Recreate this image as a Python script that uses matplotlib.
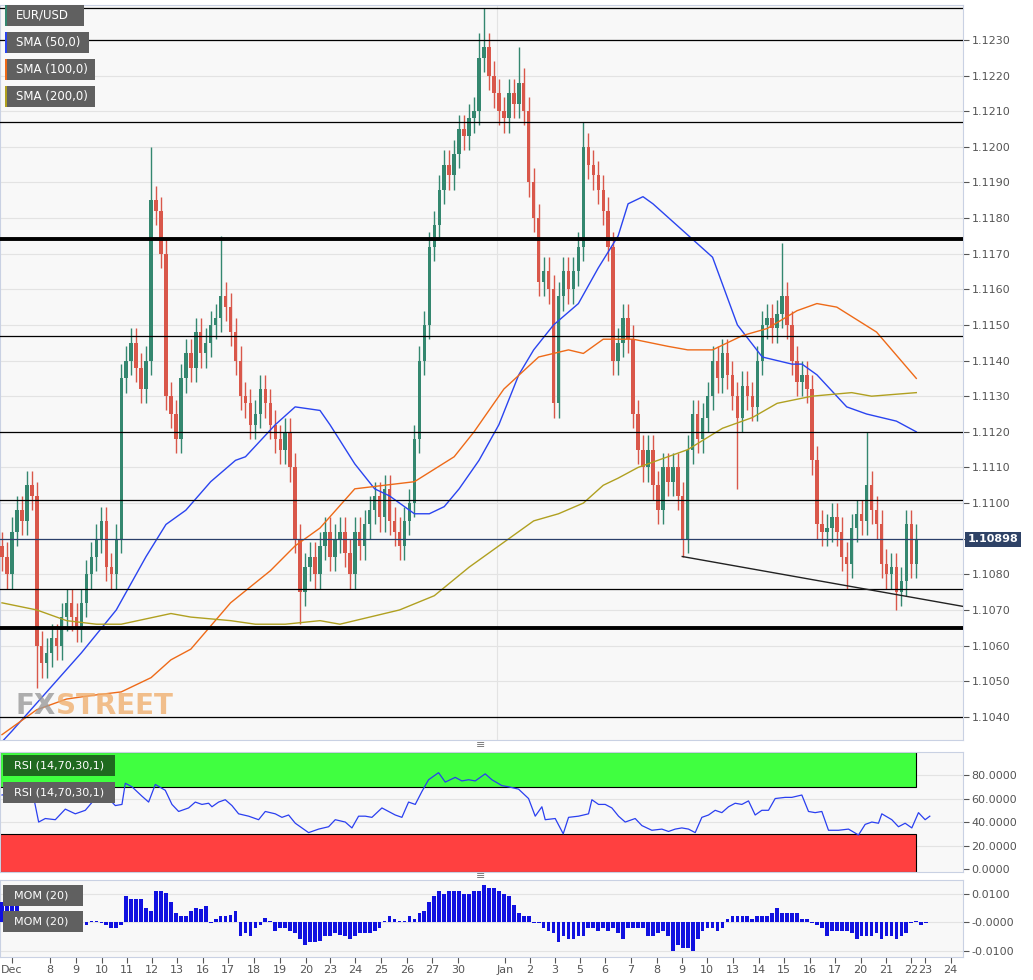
import matplotlib
matplotlib.use("Agg")
import matplotlib.pyplot as plt
from matplotlib.patches import Rectangle
import numpy as np

# ---------------- data ----------------
closes = [1.1085,1.1080,1.1092,1.1098,1.1095,1.1105,1.1102,1.1060,1.1055,1.1058,1.1062,1.1060,1.1068,1.1072,1.1068,1.1065,
1.1072,1.1080,1.1085,1.1090,1.1095,1.1082,1.1080,1.1090,1.1135,1.1140,1.1145,1.1138,1.1132,1.1140,1.1185,1.1182,1.1170,
1.1130,1.1125,1.1118,1.1135,1.1142,1.1138,1.1148,1.1142,1.1145,1.1150,1.1152,1.1158,1.1155,1.1148,1.1140,1.1130,1.1128,
1.1122,1.1125,1.1132,1.1128,1.1122,1.1118,1.1115,1.1120,1.1110,1.1090,1.1075,1.1082,1.1085,1.1080,1.1088,1.1092,1.1085,
1.1090,1.1092,1.1086,1.1080,1.1092,1.1088,1.1094,1.1098,1.1102,1.1096,1.1104,1.1095,1.1092,1.1088,1.1095,1.1100,1.1118,
1.1140,1.1150,1.1172,1.1178,1.1188,1.1195,1.1192,1.1198,1.1205,1.1203,1.1208,1.1210,1.1225,1.1228,1.1220,1.1215,1.1210,
1.1208,1.1215,1.1212,1.1218,1.1210,1.1190,1.1180,1.1162,1.1165,1.1160,1.1128,1.1158,1.1165,1.1160,1.1165,1.1172,1.1200,
1.1195,1.1192,1.1188,1.1182,1.1172,1.1140,1.1145,1.1152,1.1146,1.1125,1.1115,1.1110,1.1115,1.1105,1.1098,1.1110,1.1106,
1.1110,1.1102,1.1090,1.1115,1.1125,1.1118,1.1124,1.1130,1.1140,1.1135,1.1142,1.1136,1.1130,1.1124,1.1133,1.1130,1.1127,
1.1140,1.1150,1.1152,1.1149,1.1153,1.1158,1.1150,1.1140,1.1134,1.1136,1.1132,1.1112,1.1094,1.1092,1.1093,1.1096,1.1092,
1.1085,1.1083,1.1093,1.1097,1.1095,1.1105,1.1098,1.1094,1.1083,1.1080,1.1082,1.1075,1.1078,1.1094,1.1083,1.1090]
first_open = 1.1088
spike_high = {30: 1.1200, 44: 1.1175, 97: 1.1239, 117: 1.1207, 157: 1.1173, 174: 1.1120, 96: 1.1232, 104: 1.1228}
spike_low = {7: 1.1048, 60: 1.1066, 111: 1.1125, 137: 1.1085, 148: 1.1104, 170: 1.1076, 180: 1.1070}

sma50_idx = [0,2,16,23,29,33,37,42,47,49,55,59,64,66,71,75,78,83,86,89,92,96,100,104,107,111,116,120,124,126,129,131,
             143,148,153,159,161,164,170,174,180,184]
sma50_px = [1.1033,1.1036,1.1058,1.1070,1.1085,1.1094,1.1098,1.1106,1.1112,1.1113,1.1122,1.1127,1.1126,1.1122,1.1111,
            1.1104,1.1102,1.1097,1.1097,1.1099,1.1104,1.1112,1.1122,1.1136,1.1143,1.1150,1.1156,1.1166,1.1175,1.1184,1.1186,
            1.1184,1.1169,1.1150,1.1141,1.1139,1.1139,1.1136,1.1127,1.1125,1.1123,1.1120]
sma100_idx = [0,7,13,18,24,30,34,38,46,54,59,64,71,83,91,95,101,108,114,117,121,127,134,138,143,149,154,160,164,168,176,184]
sma100_px = [1.1035,1.1042,1.1045,1.1046,1.1047,1.1051,1.1056,1.1059,1.1072,1.1081,1.1088,1.1093,1.1104,1.1106,1.1113,
             1.1120,1.1132,1.1141,1.1143,1.1142,1.1146,1.1146,1.1144,1.1143,1.1143,1.1147,1.1149,1.1154,1.1156,1.1155,1.1148,1.1135]
sma200_idx = [0,7,13,19,24,34,38,46,51,57,64,68,80,87,94,100,107,112,117,121,124,128,138,145,151,156,163,171,175,184]
sma200_px = [1.1072,1.1070,1.1067,1.1066,1.1066,1.1069,1.1068,1.1067,1.1066,1.1066,1.1067,1.1066,1.1070,1.1074,1.1082,
             1.1088,1.1095,1.1097,1.1100,1.1105,1.1107,1.1110,1.1115,1.1121,1.1124,1.1128,1.1130,1.1131,1.1130,1.1131]

rsi_zx = [0,20,35,45,55,65,80,95,110,125,140,150,160,170,180,185,195,210,220,230,245,255,265,280,290,300,310,315,325,335,
          345,355,370,385,395,410,420,430,440,450,460,475,490,500,515,525,535,545,555,570,580,590,600,610,620,630,640,655,
          665,680,690,700,710,725,735,750,760,775,790,800,810,815,830,842,850,865,880,885,895,905,915,925,935,950,960,975,
          990,1000,1010,1020,1030,1040,1050,1060,1070,1080,1090,1100,1110,1120,1130,1140,1150,1160,1175,1185,1200,1210,
          1220,1230,1240,1255,1270,1285,1295,1305,1315,1320,1335,1345,1355,1365,1375,1385,1392]
rsi_val = [63,65,70,68,40,43,42,51,47,50,60,62,60,54,55,73,70,62,57,72,67,55,49,52,57,55,56,53,57,59,54,47,45,42,49,47,
           44,46,39,35,31,34,36,42,40,35,45,45,44,52,49,46,44,57,55,66,76,82,74,78,75,76,75,81,76,71,70,68,60,45,53,42,43,
           30,44,45,47,59,55,55,52,45,40,43,37,33,34,32,34,35,34,31,44,46,50,48,53,56,55,58,46,50,50,60,61,61,63,49,48,49,
           33,33,34,29,38,40,39,47,42,36,39,35,48,42,45]

mom = [0.007,0.012,0.006,0.007,0.003,0.003,-0.002,-0.001,-0.002,-0.003,-0.002,-0.002,-0.001,-0.002,-0.001,-0.001,-0.001,
       -0.001,0.0003,0.0003,-0.0005,-0.001,-0.002,-0.002,-0.001,0.009,0.008,0.008,0.008,0.005,0.004,0.011,0.011,0.0103,
       0.007,0.003,0.002,0.002,0.004,0.005,0.0045,0.0055,-0.0005,0.001,0.002,0.002,0.0025,0.004,-0.005,-0.004,-0.005,
       -0.002,-0.001,0.0015,0.0003,-0.003,-0.002,-0.002,-0.003,-0.004,-0.006,-0.008,-0.007,-0.007,-0.0065,-0.005,-0.005,
       -0.004,-0.0045,-0.005,-0.006,-0.005,-0.004,-0.004,-0.004,-0.003,-0.002,0.0005,0.002,0.001,0.0005,0.0005,0.002,
       0.001,0.003,0.004,0.007,0.009,0.011,0.010,0.011,0.011,0.011,0.010,0.010,0.011,0.011,0.013,0.012,0.012,0.011,0.010,
       0.009,0.006,0.003,0.002,0.002,-0.0005,-0.0005,-0.002,-0.003,-0.004,-0.007,-0.005,-0.006,-0.006,-0.005,-0.005,
       -0.002,-0.002,-0.003,-0.002,-0.003,-0.002,-0.004,-0.006,-0.002,-0.002,-0.002,-0.002,-0.005,-0.005,-0.004,-0.003,
       -0.005,-0.010,-0.008,-0.009,-0.009,-0.010,-0.006,-0.003,-0.002,-0.002,-0.003,-0.002,0.001,0.002,0.002,0.002,0.002,
       0.001,0.002,0.002,0.002,0.003,0.005,0.003,0.003,0.003,0.003,0.001,0.001,-0.0005,-0.001,-0.002,-0.005,-0.003,
       -0.003,-0.003,-0.003,-0.004,-0.006,-0.005,-0.005,-0.005,-0.004,-0.006,-0.005,-0.005,-0.006,-0.005,-0.004,-0.0005,
       0.0003,-0.001,-0.0003]

h_lines_thin = [1.1239, 1.1230, 1.1207, 1.1147, 1.1120, 1.1101, 1.1076, 1.1040]
h_lines_thick = [1.1174, 1.1065]
trend_idx = [137.3, 193.8]
trend_px = [1.1085, 1.1071]
last_price = 1.10898

tick_pos = [2.4,10,15.3,20.5,25.5,30.6,35.6,40.8,45.9,51.1,56.3,61.6,66.4,71.4,76.7,81.9,86.9,92.2,101.6,106.6,111.7,
            116.7,121.7,127,132.2,137.2,142.3,147.5,152.7,157.7,163,168,173.2,178.3,183.3,186.1,191.3]
tick_lab = ["Dec","8","9","10","11","12","13","16","17","18","19","20","23","24","25","26","27","30","Jan","2","3",
            "5","6","7","8","9","10","13","14","15","16","17","20","21","22","23","24"]

# ---------------- figure ----------------
W, H = 1033, 980
fig = plt.figure(figsize=(W/100, H/100), dpi=100, facecolor="white")
def fax(x0, y0, x1, y1):
    return fig.add_axes([x0/W, 1-y1/H, (x1-x0)/W, (y1-y0)/H])

XMAX = 193.8
GREEN = "#34876f"; RED = "#d9574a"; BG = "#f8f8f8"; SP = "#c9d1e3"
ax = fax(0, 5, 963, 740)
ar = fax(0, 752, 963, 872)
am = fax(0, 880, 963, 957)
for a in (ax, ar, am):
    a.set_facecolor(BG)
    a.set_xlim(0, XMAX)
    for s in a.spines.values():
        s.set_color(SP)
    a.yaxis.tick_right()
    a.tick_params(axis="y", labelsize=8, colors="#555555", length=4, pad=2)
    a.set_xticks([])

# main
ax.set_ylim(1.10335, 1.12398)
yt = np.round(np.arange(1.1040, 1.12301, 0.001), 4)
ax.set_yticks(yt)
ax.set_yticklabels(["" if abs(v - 1.1090) < 1e-6 else f"{v:.4f}" for v in yt])
for v in yt:
    ax.axhline(v, color="#e3e3e3", lw=0.8, zorder=0)
ax.axvline(100, color="#e3e3e3", lw=0.8, zorder=0)

opens = [first_open] + closes[:-1]
for i, (o, c) in enumerate(zip(opens, closes)):
    x = i + 0.4
    col = GREEN if c >= o else RED
    hi = max(o, c) + 0.0004
    lo = min(o, c) - 0.0004
    hi = max(hi, spike_high.get(i, hi))
    lo = min(lo, spike_low.get(i, lo))
    ax.vlines(x, lo, hi, color=col, lw=1, zorder=3)
    b = max(abs(c-o), 0.00005)
    ax.add_patch(Rectangle((x-0.35, min(o, c)), 0.7, b, color=col, zorder=4, lw=0))

ax.plot(np.array(sma50_idx)+0.4, sma50_px, color="#2a44f0", lw=1, zorder=5)
ax.plot(np.array(sma100_idx)+0.4, sma100_px, color="#ee6a18", lw=1, zorder=5)
ax.plot(np.array(sma200_idx)+0.4, sma200_px, color="#b0a020", lw=1, zorder=5)

for v in h_lines_thin:
    ax.axhline(v, color="black", lw=0.9, zorder=6)
for v in h_lines_thick:
    ax.axhline(v, color="black", lw=2.8, zorder=6)
ax.axhline(last_price, color="#2a3f6a", lw=0.9, zorder=6)
ax.plot(trend_idx, trend_px, color="#222222", lw=1, zorder=6)
ax.text(XMAX+1.0, last_price, f"{last_price:.5f}", transform=ax.transData, clip_on=False,
        va="center", ha="left", fontsize=8, fontweight="bold", color="white",
        bbox=dict(boxstyle="square,pad=0.25", fc="#2e4266", ec="none"))

def label_box(x0, y0, x1, y1, text, strip, fc="#606060", fs=8.5):
    fig.add_artist(Rectangle((x0/W, 1-y1/H), (x1-x0)/W, (y1-y0)/H, transform=fig.transFigure,
                             fc=fc, ec="none", zorder=20))
    if strip:
        fig.add_artist(Rectangle((x0/W, 1-y1/H), 2/W, (y1-y0)/H, transform=fig.transFigure,
                                 fc=strip, ec="none", zorder=21))
    fig.text((x0+11)/W, 1-((y0+y1)/2)/H, text, color="white", fontsize=fs, va="center", ha="left", zorder=22)

label_box(5, 5, 84, 26, "EUR/USD", GREEN)
label_box(5, 32, 89, 53, "SMA (50,0)", "#2a44f0")
label_box(5, 59, 95, 80, "SMA (100,0)", "#ee6a18")
label_box(5, 86, 95, 107, "SMA (200,0)", "#b0a020")

t1 = fig.text(15/W, 1-706/H, "FX", color="#9a9a9a", fontsize=20, fontweight="bold", alpha=0.8, va="center", zorder=7)
fig.canvas.draw()
bb = t1.get_window_extent()
fig.text(bb.x1/W + 1/W, 1-706/H, "STREET", color="#f0b070", fontsize=20, fontweight="bold", alpha=0.8,
         va="center", zorder=7)

# RSI
ar.set_ylim(-2.5, 99.6)
ar.set_yticks([0, 20, 40, 60, 80])
ar.set_yticklabels([f"{v:.4f}" for v in [0, 20, 40, 60, 80]])
for v in [20, 40, 60, 80]:
    ar.axhline(v, color="#e3e3e3", lw=0.8, zorder=0)
last_x = len(closes) - 1 + 0.4
ar.add_patch(Rectangle((0, 70), last_x, 29.6, fc="#40ff40", ec="black", lw=0.8, zorder=1))
ar.add_patch(Rectangle((0, -2.5), last_x, 32.5, fc="#ff4040", ec="black", lw=0.8, zorder=1))
ar.plot(np.array(rsi_zx)/1.5/4.97 + 0.4, rsi_val, color="#2a3ff0", lw=0.9, zorder=3)
label_box(3, 755, 115, 776, "RSI (14,70,30,1)", None, fc="#1f6a1f", fs=8)
label_box(3, 782, 115, 803, "RSI (14,70,30,1)", None, fc="#606060", fs=8)

# MOM
am.set_ylim(-0.01228, 0.01474)
am.set_yticks([-0.01, 0, 0.01])
am.set_yticklabels(["-0.0100", "-0.0000", "0.0100"])
for v in [-0.01, 0, 0.01]:
    am.axhline(v, color="#e3e3e3", lw=0.8, zorder=0)
am.bar(np.arange(len(mom)) + 0.4, mom, width=0.75, color="#1010e0", zorder=3)
label_box(3, 885, 83, 906, "MOM (20)", None, fs=8)
label_box(3, 911, 83, 932, "MOM (20)", None, fs=8)

am.set_xticks(tick_pos)
am.set_xticklabels(tick_lab, fontsize=8, color="#555555")
am.tick_params(axis="x", length=4, colors="#555555", pad=2)

for yy in (745, 876):
    fig.text(481/W, 1-yy/H, "≡", ha="center", va="center", fontsize=8, color="#777777")

fig.savefig("out.png", dpi=100, facecolor="white")
